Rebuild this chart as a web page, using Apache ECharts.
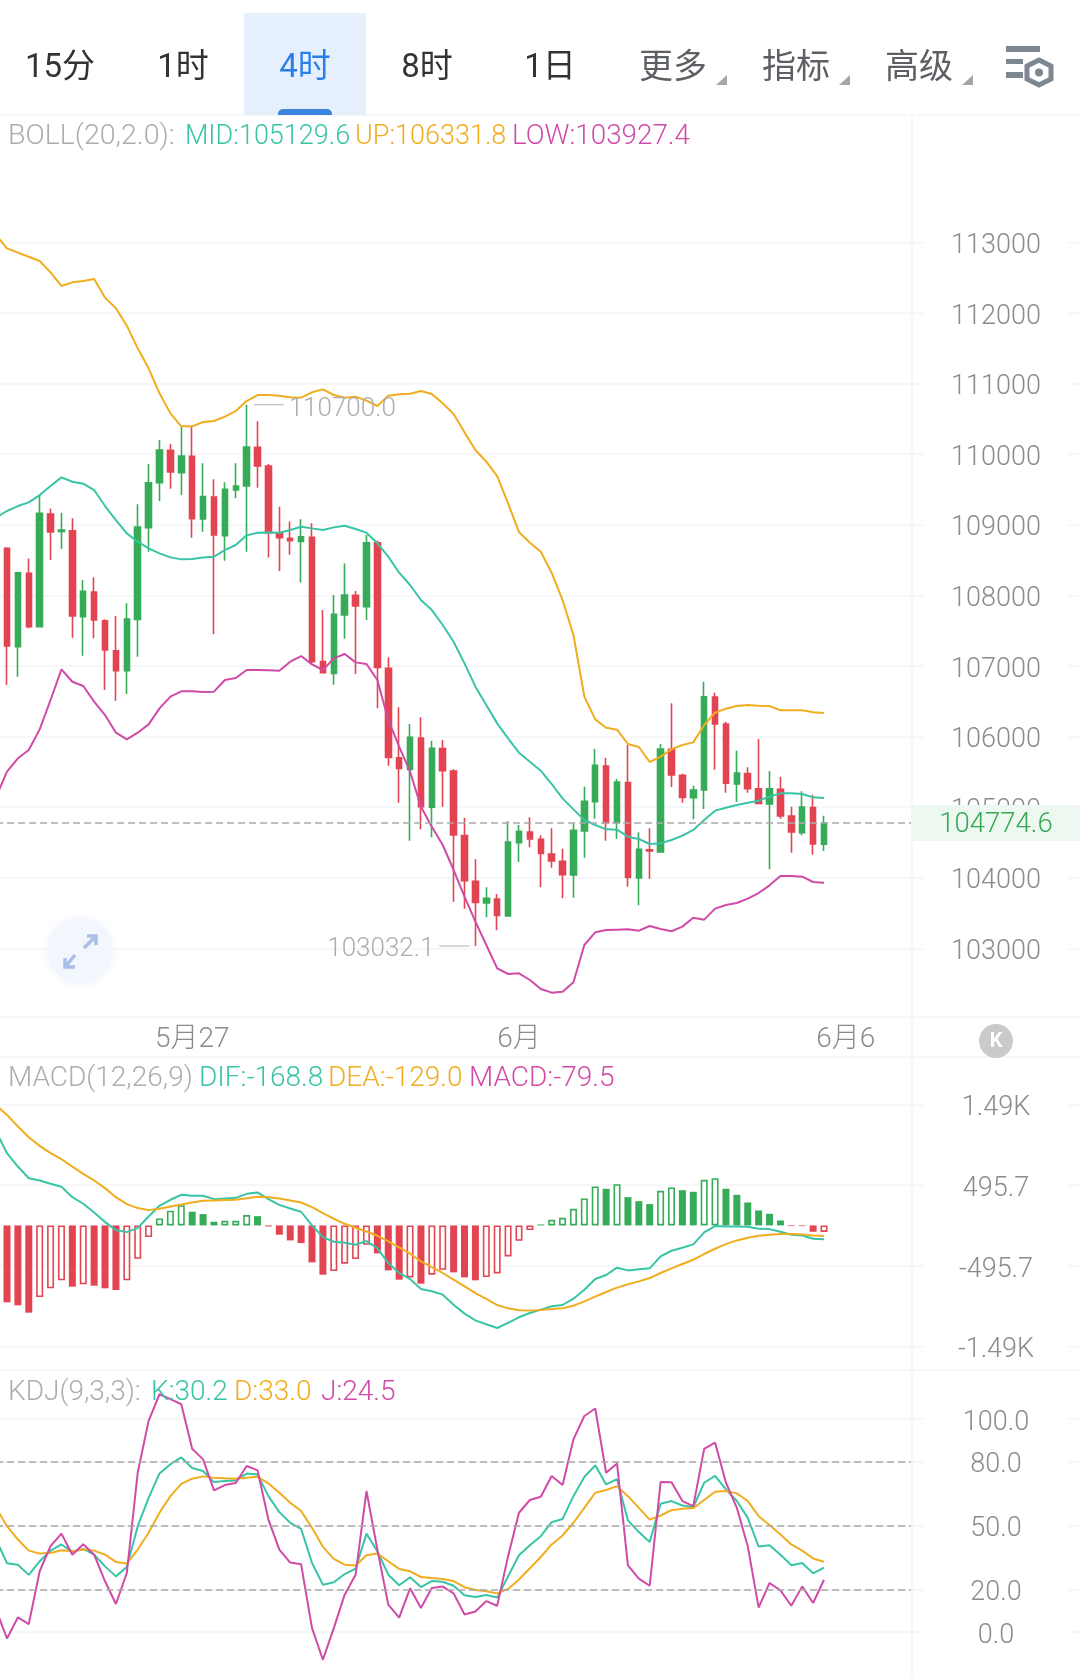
<!DOCTYPE html>
<html>
<head>
<meta charset="utf-8">
<style>
  html, body { margin: 0; padding: 0; background: #fff; }
  #main { width: 1080px; height: 1677px; }
</style>
<script src="https://cdn.jsdelivr.net/npm/echarts@6/dist/echarts.min.js"></script>
</head>
<body>
<div id="main"></div>
<script>
var dateNames = { 18: "5月27", 48: "6月", 78: "6月6" };

// open, close, low, high
var ohlc = [
  [108665,107282,106729,108679],[107272,108320,106847,108334],[108311,107555,107532,108523],[107555,109161,107546,109420],
  [109151,108896,108500,109231],[108906,108925,108655,109170],[108915,107707,107400,109090],[107697,108056,107145,108216],
  [108046,107650,107390,108254],[107640,107225,106658,107659],[107215,106932,106507,107707],[106932,107664,106602,107886],
  [107659,108967,107131,109288],[108958,109595,108618,109859],[109595,110058,109335,110199],[110053,109746,109510,110143],
  [109737,109973,109420,110388],[109968,109085,108816,110388],[109080,109397,108901,109869],[109392,108854,107447,109642],
  [108844,109501,108490,109600],[109491,109548,109373,109869],[109548,110100,108618,110700],[110095,109831,109524,110464],
  [109831,108887,108537,109859],[108877,108816,108344,109255],[108807,108773,108575,109047],[108764,108830,108183,109076],
  [108821,107060,107013,109019],[107060,106904,106894,107791],[106894,107730,106734,108004],[107721,108004,107385,108452],
  [107999,107848,106885,108061],[107839,108745,107650,108854],[108745,106979,106399,108773],[106965,105705,105587,107121],
  [105700,105549,105063,106413],[105535,105988,104525,106177],[105979,105006,104685,106271],[104997,105832,104572,105941],
  [105828,105516,105006,105950],[105511,104605,103661,105535],[104596,103958,103562,104850],[103949,103651,103032.1,104260],
  [103642,103708,103439,103864],[103699,103467,103255,103769],[103458,104506,103448,104798],[104496,104657,104223,104746],
  [104647,104548,104430,104855],[104544,104345,103864,104600],[104336,104237,104142,104699],[104232,104043,103708,104411],
  [104038,104671,103717,104770],[104662,105082,104284,105289],[105077,105592,104836,105823],[105582,104780,104525,105700],
  [104780,105356,104553,105398],[105346,104005,103873,105880],[103996,104402,103609,104643],[104397,104378,103986,104699],
  [104364,105823,104364,105894],[105818,105455,105285,106470],[105450,105138,105063,105474],[105134,105242,104827,105304],
  [105242,106564,104973,106777],[106559,106177,105530,106621],[106177,105337,105205,106210],[105327,105483,105072,105799],
  [105474,105261,105205,105563],[105261,105053,105044,105965],[105044,105261,104119,105511],[105252,104874,104836,105431],
  [104874,104647,104355,105006],[104638,105002,104600,105223],[104992,104478,104326,105176],[104473,104774.6,104378,104879]
];

// the lines start one bar left of the first visible candle
var bollUp = [
  113103,112914,112853,112796,112735,112574,112381,112433,112452,112480,
  112216,112065,111819,111498,111215,110861,110577,110393,110393,110455,
  110469,110530,110610,110752,110837,110837,110828,110804,110799,110875,
  110917,110837,110799,110814,110757,110681,110828,110847,110856,110894,
  110851,110719,110567,110308,110058,109892,109689,109302,108896,108745,
  108618,108320,107933,107437,106564,106243,106125,106097,105894,105851,
  105639,105714,105818,105880,105917,106163,106337,106394,106432,106446,
  106437,106432,106371,106371,106371,106342,106331.8
];
var bollMid = [
  109104,109194,109264,109316,109420,109548,109670,109609,109581,109491,
  109264,109066,108877,108759,108665,108594,108537,108509,108514,108537,
  108547,108641,108712,108849,108887,108891,108887,108925,108972,108948,
  108925,108962,108986,108939,108887,108736,108547,108320,108146,107933,
  107791,107579,107343,107036,106706,106446,106186,105974,105771,105643,
  105516,105327,105124,104968,104817,104747,104685,104680,104581,104548,
  104477,104487,104534,104596,104676,104817,104950,104992,105030,105063,
  105091,105148,105195,105195,105186,105138,105129.6
];
var bollLow = [
  105148,105502,105691,105809,106101,106517,106951,106776,106715,106493,
  106304,106054,105960,106054,106172,106399,106564,106640,106640,106630,
  106635,106800,106828,106942,106942,106937,106932,107060,107140,107022,
  106942,107107,107168,107050,107027,106800,106234,105856,105502,105006,
  104723,104463,104109,103731,103377,103047,102716,102636,102646,102551,
  102424,102372,102386,102518,103047,103226,103259,103264,103269,103250,
  103316,103274,103241,103307,103434,103406,103562,103614,103642,103703,
  103783,103892,104024,104024,104015,103939,103927.4
];

var macdBars = [
  -944,-981,-1071,-879,-772,-674,-752,-723,-740,-772,-793,-674,-409,-143,86,180,249,168,139,45,
  57,57,127,114,-12,-114,-184,-217,-454,-605,-560,-470,-413,-237,-343,-552,-666,-638,-715,-605,
  -544,-576,-638,-674,-633,-589,-380,-188,-57,12,69,94,204,331,478,450,507,347,298,262,
  425,466,433,413,560,580,450,376,282,184,143,61,-8,-8,-78,-79.5
];
var macdHollow = [3,4,5,7,11,12,13,14,15,16,20,21,22,30,31,32,33,37,39,40,44,45,46,47,48,50,51,52,53,54,56,60,61,64,65,75];
var dif = [
  1153,887,723,580,552,511,474,347,266,159,41,-57,-82,-33,110,241,315,376,364,364,
  323,331,339,388,405,323,253,208,168,0,-143,-200,-213,-237,-192,-278,-462,-584,-658,-781,
  -809,-850,-973,-1083,-1165,-1214,-1259,-1197,-1128,-1075,-1034,-993,-977,-899,-789,-658,-609,-519,-552,-539,
  -527,-380,-311,-274,-233,-86,-8,-12,-12,-16,-41,-45,-78,-114,-123,-163,-168.8
];
var dea = [
  1479,1357,1214,1083,977,887,813,723,633,552,458,347,262,213,188,204,233,257,282,302,
  307,311,315,335,351,347,331,307,282,225,151,82,20,-29,-74,-127,-196,-270,-347,-441,
  -511,-584,-666,-748,-830,-903,-977,-1018,-1042,-1046,-1038,-1026,-1018,-985,-932,-875,-817,-764,-723,-687,
  -646,-584,-527,-474,-421,-351,-286,-229,-184,-151,-127,-114,-106,-106,-110,-123,-129
];

var kdjK = [
  43.4,32.3,31.6,26.8,33.2,38.2,41.1,37.6,39.0,36.3,30.8,26.1,30.5,49.7,63.0,74.5,78.8,82.0,77.0,75.6,
  70.4,70.9,71.2,74.4,74.0,63.8,56.3,51.3,48.4,32.4,22.2,23.3,27.2,29.7,46.2,37.9,26.9,21.9,25.7,21.1,
  23.9,23.6,21.7,17.2,16.4,17.3,16.2,26.1,36.0,40.7,45.0,51.6,53.1,63.8,72.8,78.3,69.3,71.8,52.4,46.9,
  42.3,60.2,61.5,59.4,58.6,70.1,73.3,67.0,61.5,53.6,40.1,40.7,36.3,31.3,32.4,27.5,30.2
];
var kdjD = [
  58.3,49.7,43.4,38.2,36.8,37.1,38.4,37.9,38.7,38.2,36.3,32.9,32.1,38.7,46.6,56.0,63.8,69.6,72.0,73.1,
  72.5,72.2,72.0,72.5,72.9,69.8,65.4,60.7,56.8,48.9,40.0,34.3,31.6,31.2,36.0,36.8,33.2,29.6,28.5,25.8,
  25.3,24.9,23.9,21.0,19.7,19.1,18.1,20.2,24.6,29.9,35.2,41.1,45.3,51.3,58.3,65.4,66.7,68.5,63.8,58.3,
  52.8,54.7,57.2,57.9,58.2,62.0,65.9,66.2,65.1,61.5,54.4,50.2,45.8,41.1,38.2,34.5,33.0
];
var kdjJ = [
  10.4,-3.1,6.8,3.7,28.5,40.3,46.2,36.3,41.2,36.3,23.8,13.1,27.7,74.8,99.2,111.7,109.4,107.0,86.1,81.1,
  66.5,69.0,70.0,78.0,75.9,52.8,38.7,32.6,31.8,1.8,-13.1,1.8,17.5,26.9,66.2,38.7,12.8,6.7,20.5,11.2,
  20.6,21.3,18.1,8.2,9.6,14.5,12.3,35.6,56.0,62.0,63.5,73.3,69.0,90.5,101.5,105.0,74.8,79.2,31.3,25.0,
  21.7,70.4,70.3,61.5,59.1,86.0,89.0,70.1,58.3,40.3,11.4,23.0,19.5,12.3,21.4,13.6,24.5
];

var priceTicks = [113000,112000,111000,110000,109000,108000,107000,106000,105000,104000,103000];
var macdTicks = [1487,495.7,-495.7,-1487];
var macdTickNames = { 1487: "1.49K", 495.7: "495.7", "-495.7": "-495.7", "-1487": "-1.49K" };
var kdjTicks = [100,80,50,20,0];
var kdjDashes = [80,50,20];
var lastPrice = 104774.6;
var tabs = ["15分","1时","4时","8时","1日","更多","指标","高级"];

var TEAL = "#38c4a6", AMBER = "#f0ad1e", PINK = "#d04aa8", RED = "#e34452", GREEN = "#36ac58";
var GRID_LINE = "#f3f4f6", LABEL = "#8b8b8b", FONT = "Roboto, 'Noto Sans CJK SC', sans-serif";

var categories = [];
for (var i = 0; i < 100; i++) {
  categories.push(dateNames[i] || "");
}

function xAxis(index, showLabel) {
  return {
    type: "category",
    gridIndex: index,
    data: categories,
    axisLine: { show: false },
    axisTick: { show: false },
    splitLine: { show: false },
    axisLabel: {
      show: showLabel,
      interval: 0,
      margin: 9,
      lineHeight: 28,
      color: LABEL,
      fontSize: 28,
      fontWeight: 300,
      fontFamily: FONT
    }
  };
}

function yAxis(index, min, max, ticks, formatter) {
  return {
    type: "value",
    gridIndex: index,
    position: "right",
    min: min,
    max: max,
    scale: true,
    axisLine: { show: false },
    axisTick: { show: false, customValues: ticks },
    splitLine: { show: true, lineStyle: { color: GRID_LINE, width: 1.5 } },
    axisLabel: {
      inside: true,
      customValues: ticks,
      margin: 84,
      align: "center",
      verticalAlign: "middle",
      width: 144,
      backgroundColor: "#fff",
      // a thin blank first line drops the number onto its grid line
      rich: {
        gap: { height: 8, lineHeight: 8, fontSize: 8, align: "center" },
        num: {
          lineHeight: 30,
          align: "center",
          color: LABEL,
          fontSize: 27,
          fontWeight: 300,
          fontFamily: FONT
        }
      },
      formatter: function(v) {
        return "{gap| }\n{num|" + formatter(v) + "}";
      }
    }
  };
}

function line(name, data, color, axis) {
  return {
    name: name,
    type: "line",
    xAxisIndex: axis,
    yAxisIndex: axis,
    data: data,
    symbol: "none",
    z: 4,
    lineStyle: { color: color, width: 2 }
  };
}

function dashes(values) {
  // stops at the panel separator, not at the page edge
  return {
    silent: true,
    symbol: "none",
    label: { show: false },
    lineStyle: { color: "#a9a9a9", width: 1.7, type: [7, 4] },
    data: values.map(function(v) {
      return [{ coord: [0, v] }, { coord: [84, v] }];
    })
  };
}

function extremePoint(index, value, offset, position, textDrop) {
  return {
    coord: [index + 1, value],
    symbol: "rect",
    symbolSize: [30, 1.5],
    symbolOffset: [offset, 0],
    itemStyle: { color: "#c9c9c9" },
    label: {
      show: true,
      position: position,
      distance: 5,
      offset: [0, textDrop],
      formatter: value.toFixed(1),
      color: "#adadad",
      fontSize: 26,
      fontWeight: 300,
      fontFamily: FONT
    }
  };
}

var macdData = macdBars.map(function(v, i) {
  var color = v >= 0 ? GREEN : RED;
  if (macdHollow.indexOf(i) >= 0) {
    return { value: v, itemStyle: { color: "#fff", borderColor: color, borderWidth: 1.6 } };
  }
  return { value: v, itemStyle: { color: color } };
});

function text(str, x, y, color, size, extra) {
  var style = {
    text: str,
    fill: color,
    font: (extra && extra.weight || 300) + " " + size + "px " + FONT,
    align: extra && extra.align || "left",
    verticalAlign: "middle"
  };
  return { type: "text", x: x, y: y, z: 60, silent: true, style: style };
}

function rule(x1, y1, x2, y2, color) {
  return {
    type: "line",
    z: 1,
    silent: true,
    shape: { x1: x1, y1: y1, x2: x2, y2: y2 },
    style: { stroke: color || GRID_LINE, lineWidth: 1.5 }
  };
}

function triangle(right, bottom) {
  return {
    type: "polygon",
    z: 60,
    silent: true,
    shape: { points: [[right, bottom - 10], [right, bottom], [right - 11, bottom]] },
    style: { fill: "#a3a6aa" }
  };
}

function buildGraphics() {
  var g = [];
  var tabX = [60, 183, 305, 427, 550, 673, 796, 919];

  g.push(rule(0, 115, 1080, 115));
  g.push(rule(0, 1017, 1080, 1017));
  g.push(rule(0, 1057, 1080, 1057));
  g.push(rule(0, 1370, 1080, 1370));
  g.push(rule(912, 115, 912, 1677));

  g.push({ type: "rect", z: 50, silent: true, shape: { x: 244, y: 13, width: 122, height: 102 }, style: { fill: "#e6f0fc" } });
  g.push({ type: "rect", z: 51, silent: true, shape: { x: 278, y: 109, width: 54, height: 6, r: [5, 5, 0, 0] }, style: { fill: "#3c84dd" } });

  tabs.forEach(function(t, i) {
    var color = i === 2 ? "#2b7fe8" : i > 4 ? "#5c5f63" : "#333";
    g.push(text(t, tabX[i], 69, color, i > 4 ? 34 : 33, { align: "center", weight: 400 }));
  });
  g.push(triangle(727, 85), triangle(850, 85), triangle(973, 85));

  // settings icon
  g.push({ type: "rect", z: 60, silent: true, shape: { x: 1006, y: 46, width: 34, height: 6 }, style: { fill: "#7d8791" } });
  g.push({ type: "rect", z: 60, silent: true, shape: { x: 1006, y: 59, width: 17, height: 5 }, style: { fill: "#7d8791" } });
  g.push({ type: "rect", z: 60, silent: true, shape: { x: 1006, y: 72, width: 17, height: 6 }, style: { fill: "#7d8791" } });
  g.push({
    type: "polygon", z: 60, silent: true,
    shape: { points: [[1039, 60], [1051, 66], [1051, 79], [1039, 85], [1027, 79], [1027, 66]] },
    style: { fill: "#fff", stroke: "#7d8791", lineWidth: 5 }
  });
  g.push({ type: "circle", z: 61, silent: true, shape: { cx: 1039, cy: 72.5, r: 4 }, style: { fill: "#7d8791" } });

  // legends
  g.push(text("BOLL(20,2.0):", 8, 137, "#adadad", 28.5));
  g.push(text("MID:105129.6", 185, 137, TEAL, 27));
  g.push(text("UP:106331.8", 355, 137, AMBER, 27));
  g.push(text("LOW:103927.4", 512, 137, PINK, 27.8));
  g.push(text("MACD(12,26,9)", 8, 1079, "#adadad", 28));
  g.push(text("DIF:-168.8", 199, 1079, TEAL, 28));
  g.push(text("DEA:-129.0", 328, 1079, AMBER, 28));
  g.push(text("MACD:-79.5", 469, 1079, PINK, 28));
  g.push(text("KDJ(9,3,3):", 8, 1393, "#adadad", 28));
  g.push(text("K:30.2", 151, 1393, TEAL, 28));
  g.push(text("D:33.0", 234, 1393, AMBER, 28));
  g.push(text("J:24.5", 321, 1393, PINK, 28));

  // last price tag
  g.push({ type: "rect", z: 50, silent: true, shape: { x: 912, y: 805, width: 168, height: 36 }, style: { fill: "#edf8f0" } });
  g.push(text(lastPrice.toFixed(1), 996, 825, "#34a853", 27.5, { align: "center" }));

  // expand button
  g.push({
    type: "circle", z: 40, silent: true,
    shape: { cx: 80, cy: 951, r: 33 },
    style: { fill: "#f2f6fd", shadowBlur: 10, shadowColor: "#eef3fb" }
  });
  [
    [[84, 948], [96, 936]], [[87, 936], [96, 936], [96, 945]],
    [[75, 955], [65, 967]], [[65, 958], [65, 967], [75, 967]]
  ].forEach(function(pts) {
    g.push({
      type: "polyline", z: 41, silent: true,
      shape: { points: pts },
      style: { stroke: "#a9bfe8", lineWidth: 3.5, fill: null }
    });
  });

  // back to latest button
  g.push({ type: "circle", z: 40, silent: true, shape: { cx: 996, cy: 1041, r: 17 }, style: { fill: "#c9cacc" } });
  g.push(text("K", 996, 1042, "#fff", 20, { align: "center", weight: 700 }));
  return g;
}

var chart = echarts.init(document.getElementById("main"));

chart.setOption({
  animation: false,
  backgroundColor: "#fff",
  tooltip: { show: false },
  grid: [
    { left: -9.35, right: 0, top: 115, bottom: 660, outerBoundsMode: "none" },
    { left: -9.35, right: 0, top: 1057, bottom: 307, outerBoundsMode: "none" },
    { left: -9.35, right: 0, top: 1370, bottom: 0, outerBoundsMode: "none" }
  ],
  xAxis: [xAxis(0, true), xAxis(1, false), xAxis(2, false)],
  yAxis: [
    yAxis(0, 102027, 114803, priceTicks, function(v) { return String(v); }),
    yAxis(1, -1775, 2068, macdTicks, function(v) { return macdTickNames[v]; }),
    yAxis(2, -21.2, 123.1, kdjTicks, function(v) { return v.toFixed(1); })
  ],
  graphic: buildGraphics(),
  series: [
    {
      name: "K",
      type: "candlestick",
      data: [["-", "-", "-", "-"]].concat(ohlc),
      barWidth: 6,
      itemStyle: { color: GREEN, color0: RED, borderColor: GREEN, borderColor0: RED, borderWidth: 1.6 },
      markPoint: {
        silent: true,
        data: [extremePoint(22, 110700, 22, "right", 5), extremePoint(43, 103032.1, -21, "left", 3)]
      }
    },
    line("MID", bollMid, TEAL, 0),
    line("UP", bollUp, AMBER, 0),
    line("LOW", bollLow, PINK, 0),
    {
      name: "MACD",
      type: "bar",
      xAxisIndex: 1,
      yAxisIndex: 1,
      barWidth: 7,
      data: ["-"].concat(macdData)
    },
    line("DIF", dif, TEAL, 1),
    line("DEA", dea, AMBER, 1),
    (function() {
      var s = line("K", kdjK, TEAL, 2);
      s.markLine = dashes(kdjDashes);
      return s;
    })(),
    line("D", kdjD, AMBER, 2),
    line("J", kdjJ, PINK, 2),
    {
      // price guide is drawn over the candles
      name: "last",
      type: "line",
      data: [],
      markLine: dashes([lastPrice])
    }
  ]
});
</script>
</body>
</html>
